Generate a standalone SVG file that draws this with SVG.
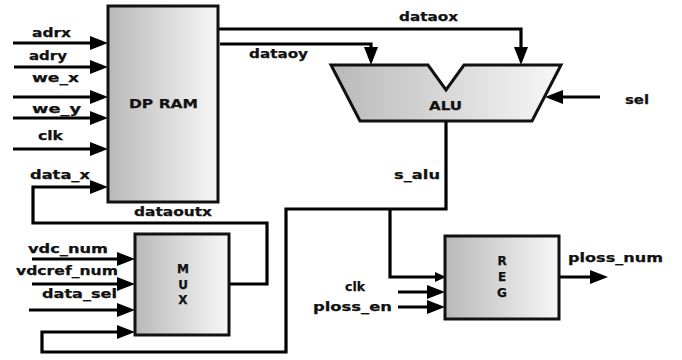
<svg xmlns="http://www.w3.org/2000/svg" width="682" height="360" viewBox="0 0 682 360">
<defs>
<linearGradient id="g" x1="0" y1="0" x2="1" y2="0">
<stop offset="0" stop-color="#b9b9b9"/>
<stop offset="1" stop-color="#f7f7f7"/>
</linearGradient>
<marker id="ab" markerUnits="userSpaceOnUse" markerWidth="18" markerHeight="14" viewBox="0 0 18 14" refX="10" refY="7" orient="auto">
<path d="M0,0 L18,7 L0,14 z" fill="#000"/>
</marker>
<marker id="as" markerUnits="userSpaceOnUse" markerWidth="11" markerHeight="10" viewBox="0 0 11 10" refX="5" refY="5" orient="auto">
<path d="M0,0 L11,5 L0,10 z" fill="#000"/>
</marker>
</defs>
<style>
.box{fill:url(#g);stroke:#111;stroke-width:3}
.w{fill:none;stroke:#000;stroke-width:3.2}
.a{marker-end:url(#ab)}
.s{marker-end:url(#as)}
text{font-family:"DejaVu Sans","Verdana",sans-serif;font-weight:bold;font-size:12px;fill:#111;stroke:#111;stroke-width:0.25}
.c{text-anchor:middle}
</style>
<g id="connectors">
<path class="w a" d="M13,43 H100"/>
<path class="w a" d="M14,67 H100"/>
<path class="w a" d="M13,97 H100"/>
<path class="w a" d="M13,118 H100"/>
<path class="w a" d="M13,149 H100"/>
<path class="w a" d="M230,284 H267 V223 H33 V187 H100"/>
<path class="w a" d="M217,29 H521 V57"/>
<path class="w a" d="M220,44 H371 V57"/>
<path class="w a" d="M600,97 H553"/>
<path class="w a" d="M446,121 V209 H286 V352 H42 V332 H127"/>
<path class="w s" d="M390,209 V277 H440"/>
<path class="w a" d="M32,259 H127"/>
<path class="w a" d="M32,284 H127"/>
<path class="w a" d="M29,310 H127"/>
<path class="w a" d="M398,292 H437"/>
<path class="w a" d="M398,307 H437"/>
<path class="w a" d="M559,277 H600"/>
</g>
<g id="dpram">
<rect class="box" x="108" y="6" width="110" height="196"/>
<text x="129" y="108" textLength="69" lengthAdjust="spacingAndGlyphs">DP RAM</text>
</g>
<g id="alu">
<path class="box" d="M331,65 H428 L446,90 L464,65 H561 L532,121 H360 Z"/>
<text x="429" y="110" textLength="33" lengthAdjust="spacingAndGlyphs">ALU</text>
</g>
<g id="mux">
<rect class="box" x="135" y="234" width="94" height="101"/>
<text class="c" x="183" y="273">M</text>
<text class="c" x="183" y="289">U</text>
<text class="c" x="183" y="304">X</text>
</g>
<g id="reg">
<rect class="box" x="445" y="236" width="114" height="83"/>
<text class="c" x="502" y="265">R</text>
<text class="c" x="502" y="281">E</text>
<text class="c" x="502" y="297">G</text>
</g>
<g id="labels">
<text x="32" y="37" textLength="39" lengthAdjust="spacingAndGlyphs">adrx</text>
<text x="29" y="60" textLength="38" lengthAdjust="spacingAndGlyphs">adry</text>
<text x="32" y="82" textLength="47" lengthAdjust="spacingAndGlyphs">we_x</text>
<text x="32" y="113" textLength="49" lengthAdjust="spacingAndGlyphs">we_y</text>
<text x="38" y="140" textLength="25" lengthAdjust="spacingAndGlyphs">clk</text>
<text x="30" y="179" textLength="60" lengthAdjust="spacingAndGlyphs">data_x</text>
<text x="134" y="216" textLength="78" lengthAdjust="spacingAndGlyphs">dataoutx</text>
<text x="28" y="253" textLength="80" lengthAdjust="spacingAndGlyphs">vdc_num</text>
<text x="16" y="275" textLength="102" lengthAdjust="spacingAndGlyphs">vdcref_num</text>
<text x="42" y="298" textLength="75" lengthAdjust="spacingAndGlyphs">data_sel</text>
<text x="399" y="21" textLength="59" lengthAdjust="spacingAndGlyphs">dataox</text>
<text x="249" y="58" textLength="59" lengthAdjust="spacingAndGlyphs">dataoy</text>
<text x="625" y="104" textLength="24" lengthAdjust="spacingAndGlyphs">sel</text>
<text x="394" y="179" textLength="46" lengthAdjust="spacingAndGlyphs">s_alu</text>
<text x="345" y="291" textLength="20" lengthAdjust="spacingAndGlyphs">clk</text>
<text x="313" y="311" textLength="79" lengthAdjust="spacingAndGlyphs">ploss_en</text>
<text x="568" y="262" textLength="95" lengthAdjust="spacingAndGlyphs">ploss_num</text>
</g>
</svg>
